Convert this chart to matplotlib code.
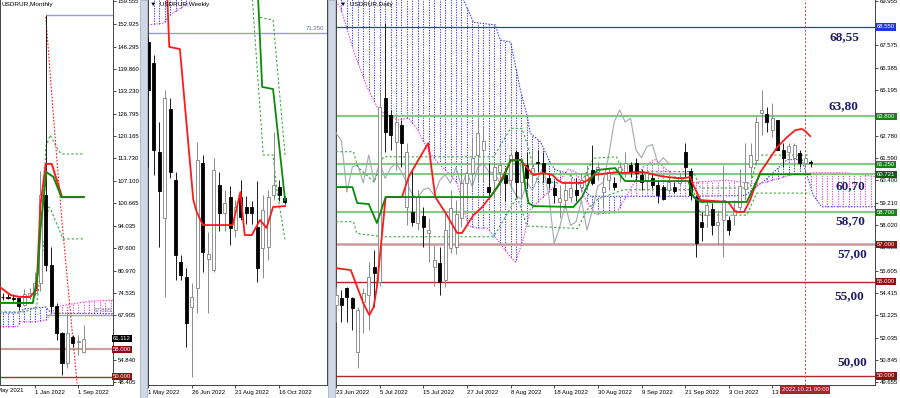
import numpy as np
import matplotlib.pyplot as plt
from matplotlib.patches import Rectangle

plt.rcParams['font.family'] = ['Liberation Sans', 'DejaVu Sans']

W, H = 900, 398
BLUE = '#3b3bf5'
MAG = '#f03cf0'
RED = '#ff1a1a'
GREEN = '#0b8a0b'
GREEN_DASH = '#3aa83a'
LEVEL_GREEN = '#86c886'
NAVY = '#1d1d6b'
TXT = 4.3

# ---------------- monthly (month index, Jan 2022 = 0) ----------------
m_idx = list(range(-6, 10))
m_open = [73.2, 73.1, 72.9, 72.8, 70.9, 73.6, 74.4, 77.3, 103.0, 82.5, 70.6, 62.6, 54.0, 61.6, 60.0, 57.3]
m_high = [74.3, 74.0, 73.8, 73.3, 75.5, 75.8, 80.4, 110.0, 155.5, 87.8, 71.6, 63.0, 68.6, 62.2, 62.1, 65.1]
m_low = [72.3, 72.6, 72.2, 69.3, 70.6, 72.6, 73.5, 74.9, 80.8, 68.9, 60.7, 50.5, 52.5, 58.5, 56.3, 56.8]
m_close = [73.1, 72.9, 72.6, 70.6, 74.2, 74.3, 77.3, 103.0, 82.5, 70.6, 62.6, 54.0, 62.8, 59.7, 60.4, 61.1]

m_tenkan_x = [-6.5, -4.5, -3, -1, 0.3, 1, 2, 3.1, 5, 9]
m_tenkan_v = [76.1, 73.8, 73.3, 73.2, 75.3, 100.0, 112.1, 112.1, 102.4, 102.4]
m_kijun_x = [-6.5, -0.4, 0.5, 1, 2.1, 3.4, 4.9, 9]
m_kijun_v = [71.5, 71.5, 80.0, 93.0, 109.7, 108.3, 102.4, 102.4]
m_upper_x = [1.6, 2.0, 2.8, 4.3, 4.9, 9]
m_upper_v = [101.5, 117.0, 120.5, 116.1, 115.0, 115.0]
m_lower_x = [-6.5, -1.9, 0.3, 1.3, 2.5, 2.8, 5.2, 9]
m_lower_v = [68.9, 68.9, 70.4, 85.0, 99.5, 99.2, 90.2, 90.2]
m_rdot_x = [2.0, 3.0, 4.0, 5.0, 6.0, 7.0, 7.8]
m_rdot_v = [155.0, 134.5, 114.4, 95.2, 78.2, 61.3, 48.0]
m_spana_x = [-6.5, -3, -2, 0, 2, 3, 14.4]
m_spana_v = [68.6, 68.6, 69.8, 70.0, 70.3, 68.5, 68.4]
m_spanb_x = [-6.5, -3.2, -2.8, 0, 2, 4, 6, 10, 14.4]
m_spanb_v = [64.6, 64.6, 66.0, 66.0, 66.5, 70.3, 71.0, 72.0, 72.3]
m_yticks = [159.555, 152.925, 146.295, 139.860, 133.230, 126.795, 120.165, 113.730,
            107.100, 100.665, 94.035, 87.600, 80.970, 74.535, 67.905, 54.840, 48.405]
m_xticks = [-8, 0, 8]
m_xlabels = ['1 May 2021', '1 Jan 2022', '1 Sep 2022']

# ---------------- weekly (week index, 1 May 2022 = 0) ----------------
w_idx = list(range(26))
w_open = [70.7, 69.4, 64.0, 60.0, 66.6, 62.3, 57.3, 56.4, 54.54, 55.7, 63.3, 57.5, 56.8,
          62.0, 60.3, 61.25, 59.24, 61.25, 60.64, 60.64, 59.42, 58.14, 58.2, 61.37, 61.86, 61.19]
w_close = [67.8, 64.1, 61.6, 67.3, 62.8, 57.7, 56.5, 53.6, 55.15, 63.5, 57.9, 57.8, 62.9,
           60.3, 60.9, 59.36, 60.64, 60.03, 60.27, 60.27, 56.92, 60.46, 61.25, 61.98, 61.37, 60.94]
w_high = [71.0, 69.9, 65.8, 67.8, 67.3, 62.8, 57.7, 56.9, 56.0, 64.6, 63.8, 59.1, 63.6,
          62.8, 61.7, 61.9, 61.06, 62.3, 61.3, 61.0, 62.2, 61.37, 61.7, 65.2, 62.3, 61.3]
w_low = [63.1, 62.6, 58.2, 55.15, 62.4, 56.2, 56.2, 52.1, 50.3, 54.2, 56.7, 54.2, 56.7,
         59.2, 59.2, 58.3, 58.8, 59.85, 59.6, 59.6, 56.07, 56.3, 57.4, 61.06, 61.0, 60.8]
w_tenkan_x = [3.5, 3.85, 5.8, 8.26, 8.9, 10.0, 15.5, 16.9, 17.7, 19.0, 20.5, 21.7, 22.9, 25.1]
w_tenkan_v = [73.3, 70.4, 70.27, 61.07, 60.33, 59.54, 59.54, 61.55, 58.93, 58.93, 59.85, 59.36, 60.64, 60.7]
w_kijun_x = [20.0, 20.9, 22.9, 25.1]
w_kijun_v = [74.5, 67.96, 67.83, 61.07]
w_band1_x = [19.1, 21.1, 22.9, 23.6, 23.9, 25.1]
w_band1_v = [73.3, 63.81, 63.81, 61.7, 61.07, 58.63]
w_band2_x = [20.5, 22.9, 25.1]
w_band2_v = [72.2, 72.04, 63.81]
w_spana_x = [-0.1, 8.2]
w_spana_v = [75.0, 75.0]
w_spanb_x = [-0.1, 2.8, 4.0, 7.5, 8.2]
w_spanb_v = [71.74, 71.85, 72.35, 73.1, 73.4]
w_xticks = [0, 8, 16, 24]
w_xlabels = ['1 May 2022', '26 Jun 2022', '21 Aug 2022', '16 Oct 2022']

# ---------------- daily (bar index, 23 Jun 2022 = 0) ----------------
d_idx = list(range(88))
d_open = [53.77, 54.14, 54.67, 54.14, 51.27, 53.93, 54.30, 55.79, 54.99, 64.78,
          63.87, 62.44, 63.34, 58.98, 58.72, 58.13, 58.50, 57.60, 55.79, 56.00,
          55.10, 56.80, 56.85, 58.40, 60.26, 60.79, 61.75, 62.00, 60.04, 60.42,
          60.84, 60.68, 60.42, 61.91, 60.31, 61.20, 60.80, 61.40, 61.30, 60.50,
          60.00, 59.25, 59.35, 59.50, 59.90, 60.05, 60.15, 60.95, 60.85, 59.80,
          60.40, 60.25, 60.85, 60.85, 61.20, 61.30, 60.70, 60.40, 60.50, 60.15,
          60.05, 59.90, 60.05, 60.25, 61.90, 60.90, 59.50, 58.20, 58.55, 58.90,
          58.00, 58.30, 58.30, 58.55, 59.00, 59.95, 61.10, 61.50, 64.00, 63.90,
          63.10, 63.60, 62.00, 61.90, 61.60, 61.85, 61.30, 61.40]
d_close = [54.30, 53.77, 54.20, 53.61, 53.50, 54.41, 55.26, 55.47, 64.30, 62.97,
           62.81, 63.50, 62.38, 61.91, 58.18, 59.51, 57.92, 57.76, 56.16, 54.99,
           57.76, 58.93, 58.60, 60.26, 60.79, 61.59, 62.92, 62.50, 59.78, 61.11,
           61.21, 60.26, 61.75, 60.31, 61.40, 60.50, 61.05, 61.32, 60.85, 60.26,
           59.62, 59.46, 59.90, 60.00, 59.60, 60.40, 60.70, 60.25, 61.10, 60.05,
           60.85, 60.05, 61.10, 61.30, 60.85, 60.80, 60.30, 60.80, 60.15, 59.60,
           59.40, 60.30, 59.85, 60.55, 61.10, 59.60, 57.05, 57.90, 59.10, 58.00,
           58.20, 59.35, 57.75, 58.80, 60.10, 60.30, 61.75, 63.50, 64.14, 63.50,
           63.70, 62.00, 61.60, 62.20, 62.30, 61.30, 61.60, 61.30]
d_high = [54.73, 54.57, 54.73, 54.20, 53.66, 54.67, 56.06, 56.69, 65.20, 68.76,
          64.14, 63.87, 63.61, 62.38, 60.95, 59.90, 59.00, 58.40, 56.96, 56.85,
          58.66, 59.88, 59.35, 61.00, 61.40, 62.65, 63.71, 63.30, 61.32, 61.40,
          61.40, 61.05, 61.85, 62.01, 61.50, 61.90, 62.00, 62.00, 61.90, 60.80,
          60.40, 60.15, 60.31, 60.50, 60.50, 60.80, 61.20, 62.30, 61.40, 60.60,
          61.10, 60.60, 61.40, 61.90, 61.40, 61.60, 61.00, 61.00, 60.80, 60.40,
          60.15, 60.60, 60.30, 60.80, 62.40, 61.05, 59.60, 58.70, 59.35, 59.20,
          58.80, 61.20, 58.50, 59.35, 61.00, 62.40, 62.40, 63.80, 65.20, 64.30,
          64.50, 63.60, 62.40, 62.40, 62.40, 62.00, 61.75, 61.50]
d_low = [52.87, 52.87, 52.87, 52.44, 50.42, 52.28, 52.44, 53.66, 54.78, 61.91,
         62.00, 60.95, 61.11, 58.02, 57.97, 57.76, 56.85, 56.06, 54.78, 54.30,
         54.73, 56.53, 56.50, 57.90, 59.30, 59.90, 60.31, 60.30, 59.51, 59.51,
         59.60, 59.30, 60.00, 59.51, 59.35, 60.00, 60.26, 60.84, 60.30, 60.00,
         59.20, 58.40, 58.93, 59.25, 59.30, 59.80, 59.90, 60.15, 60.40, 59.00,
         59.90, 59.90, 60.30, 60.60, 60.60, 60.40, 59.90, 59.90, 60.00, 59.20,
         59.35, 59.80, 59.70, 60.10, 60.55, 59.35, 56.30, 57.20, 57.90, 57.50,
         56.96, 56.30, 57.50, 58.00, 58.80, 59.35, 60.50, 61.20, 62.80, 62.97,
         62.70, 62.00, 61.10, 61.50, 61.10, 61.10, 61.10, 61.11]
chikou_shift = 26

d_tenkan_x = [0, 2.7, 3.2, 5.0, 6.1, 6.9, 7.5, 9.1, 12.1, 13.3, 15.1, 16.9, 18.2, 20.1, 22.2,
              23.1, 25.2, 26.8, 29.2, 30.1, 32.0, 33.8, 35.1, 36.2, 38.0, 39.7, 40.6, 41.5,
              45.1, 46.2, 47.2, 51.6, 52.6, 56.3, 59.4, 60.7, 62.5, 64.0, 64.9, 65.5, 66.8,
              71.9, 73.2, 74.8, 75.9, 77.7, 80.9, 82.7, 84.2, 85.4, 86.0, 86.9]
d_tenkan_v = [55.73, 55.63, 55.26, 53.87, 53.24, 53.66, 54.73, 59.51, 59.51, 60.57, 61.48,
              62.38, 59.51, 58.66, 57.60, 57.60, 58.55, 58.98, 59.88, 60.31, 61.43, 61.48,
              61.05, 60.68, 60.79, 60.68, 60.42, 60.26, 60.26, 60.42, 60.68, 60.84, 60.79,
              60.84, 60.63, 60.58, 60.52, 60.52, 60.58, 60.15, 59.35, 59.25, 58.72, 58.72,
              59.35, 60.79, 62.17, 62.70, 63.07, 63.13, 63.02, 62.75]
d_kijun_x = [0, 3.0, 3.9, 6.0, 7.5, 9.1, 28.3, 30.7, 32.0, 34.1, 34.7, 35.3, 36.2, 43.5, 45.1,
             46.6, 47.9, 51.2, 52.5, 53.0, 64.6, 65.5, 66.8, 75.3, 77.7, 86.9]
d_kijun_v = [60.04, 60.04, 59.19, 59.14, 58.13, 59.51, 59.51, 60.52, 61.48, 61.48, 60.04,
             59.19, 59.03, 58.98, 59.51, 60.42, 60.95, 61.05, 60.52, 60.36, 60.36, 59.51,
             59.25, 59.25, 60.72, 60.72]
d_upper_x = [0, 3.2, 4, 7, 8.7, 28.9, 32.0, 34.1, 35.0, 37, 45, 47.2, 51.4, 52.7, 65.5, 66.8,
             75.9, 77.3, 86.9]
d_upper_v = [61.92, 61.92, 61.1, 60.3, 61.65, 61.65, 63.16, 63.16, 62.37, 60.3, 60.3, 61.57,
             61.65, 60.86, 60.86, 59.99, 59.99, 61.74, 61.74]
d_lower_x = [0, 3.2, 3.8, 8.7, 28.9, 33.2, 35.0, 44.3, 46.0, 48, 52.7, 65.5, 66.8, 75.3, 77.1, 86.9]
d_lower_v = [58.2, 58.2, 57.58, 57.4, 57.4, 59.53, 57.97, 57.84, 58.82, 59.4, 59.9, 59.9,
             58.55, 58.55, 59.72, 59.72]
d_spana_x = [0, 21, 23.4, 25.2, 29.2, 30.1, 32.0, 33.8, 35.1, 35.6, 37.5, 39.3, 40.2, 42.4,
             44.5, 46.6, 65, 75, 79, 82.7, 85.4, 87.5, 89, 98.8]
d_spana_v = [73.5, 71.5, 69.99, 68.8, 68.66, 67.86, 67.75, 65.2, 63.76, 62.9, 62.44, 61.32,
             60.95, 60.79, 60.2, 59.55, 59.55, 59.6, 60.5, 61.5, 61.5, 59.6, 59.0, 59.0]
d_spanb_x = [0, 0.8, 3.6, 5.7, 7.8, 11.3, 13.3, 15.0, 16.8, 18.8, 20.6, 22.2, 24.2, 25.9, 27.7,
             29.6, 32.0, 32.9, 34.3, 35.6, 37.5, 40.5, 42.6, 44.2, 45.5, 47.5, 51.5, 54.5,
             56.5, 58.5, 60.5, 62.5, 65.5, 71.5, 77.5, 83.5, 87.5, 93.5, 98.8]
d_spanb_v = [69.9, 69.6, 66.95, 65.36, 64.14, 63.6, 63.71, 63.07, 62.0, 61.3, 60.8, 60.26,
             58.0, 57.86, 57.86, 57.23, 56.32, 56.06, 57.23, 58.82, 59.4, 60.2, 61.0, 60.8,
             59.5, 58.6, 58.7, 60.2, 61.2, 61.5, 61.0, 60.5, 60.3, 60.4, 60.2, 60.7, 60.8,
             60.8, 60.6]
d_yticks = [69.955, 67.575, 66.385, 65.195, 62.780, 61.590, 60.400, 59.210, 58.020,
            56.830, 55.605, 54.415, 53.225, 52.035, 50.845, 49.655]
d_xticks = [0, 8, 16, 24, 32, 40, 48, 56, 64, 72, 80]
d_xlabels = ['23 Jun 2022', '5 Jul 2022', '15 Jul 2022', '27 Jul 2022', '8 Aug 2022',
             '18 Aug 2022', '30 Aug 2022', '9 Sep 2022', '21 Sep 2022', '3 Oct 2022',
             '13 Oct 2022']
green_levels = [63.800, 61.250, 60.721, 58.700]
blue_level = 68.550
red_levels = [57.000, 55.000, 50.000]
level_texts = ['68,55', '63,80', '60,70', '58,70', '57,00', '55,00', '50,00']
level_refs = [68.550, 63.800, 60.721, 58.700, 57.000, 55.000, 50.000]


def candles(ax, x, o, h, l, c, width, min_h):
    x, o, h, l, c = [np.asarray(a, float) for a in (x, o, h, l, c)]
    up = c >= o
    ax.vlines(x[up], l[up], h[up], color='#8a8a8a', lw=0.7, zorder=5)
    ax.vlines(x[~up], l[~up], h[~up], color='#1a1a1a', lw=0.7, zorder=5)
    lo = np.minimum(o, c)
    hh = np.maximum(np.abs(c - o), min_h)
    ax.bar(x[up], hh[up], width, bottom=lo[up], facecolor='white', edgecolor='#808080',
           lw=0.6, zorder=6)
    ax.bar(x[~up], hh[~up], width, bottom=lo[~up], facecolor='black', edgecolor='black',
           lw=0.6, zorder=6)


def cloud(ax, xa, ya, xb, yb):
    dots = (0, (1.3, 1.3))
    ax.plot(xa, ya, color=BLUE, lw=0.8, ls=dots, zorder=1)
    ax.plot(xb, yb, color=MAG, lw=0.8, ls=dots, zorder=1)
    grid = np.arange(np.ceil(max(xa[0], xb[0])), np.floor(min(xa[-1], xb[-1])) + 1)
    a = np.interp(grid, xa, ya)
    b = np.interp(grid, xb, yb)
    top = a >= b
    ax.vlines(grid[top], b[top], a[top], color=BLUE, lw=0.7, linestyles=[dots], zorder=1)
    ax.vlines(grid[~top], a[~top], b[~top], color=MAG, lw=0.7, linestyles=[dots], zorder=1)


def box(ax, val, text, fc, tc='white'):
    ax.text(1.004, val, text, transform=ax.get_yaxis_transform(), fontsize=TXT, color=tc,
            va='center', ha='left', zorder=20, clip_on=False,
            bbox=dict(boxstyle='square,pad=0.18', fc=fc, ec='none'))


def style(ax, xlim, ylim, xticks, xlabels, yticks=None):
    ax.set_xlim(*xlim)
    ax.set_ylim(*ylim)
    ax.set_facecolor('white')
    for s in ax.spines.values():
        s.set_color('#444444')
        s.set_linewidth(0.7)
    ax.spines['top'].set_visible(False)
    ax.set_xticks(xticks)
    ax.set_xticklabels(xlabels)
    for t in ax.get_xticklabels():
        t.set_ha('left')
    ax.tick_params(axis='x', length=2.5, width=0.5, pad=1.2, labelsize=TXT)
    ax.yaxis.tick_right()
    if yticks is None:
        ax.set_yticks([])
    else:
        ax.set_yticks(yticks)
        ax.set_yticklabels(['%.3f' % v for v in yticks])
        ax.tick_params(axis='y', length=2.5, width=0.5, pad=1.2, labelsize=TXT)


fig = plt.figure(figsize=(9, 3.98), dpi=100)
fig.patch.set_facecolor('white')


def px_axes(x0, x1, y0=0, y1=385):
    return fig.add_axes([x0 / W, 1 - y1 / H, (x1 - x0) / W, (y1 - y0) / H])


for sx in (140, 328):
    fig.add_artist(Rectangle((sx / W, 0), 7 / W, 1, transform=fig.transFigure,
                             fc='#cfd8e4', ec='#9aa8ba', lw=0.5, zorder=0))

# ======================= monthly panel =======================
axm = px_axes(0, 112.5)
style(axm, (-6.48, 14.35), (47.55, 159.93), m_xticks[1:], m_xlabels[1:], m_yticks)
axm.text(m_xticks[0], -0.008, m_xlabels[0], transform=axm.get_xaxis_transform(),
         fontsize=TXT, va='top', ha='left', clip_on=False)
cloud(axm, m_spana_x, m_spana_v, m_spanb_x, m_spanb_v)
axm.hlines([155.5, 67.865], 1.95, 14.35, color='#9c9cd0', lw=1.0, zorder=2)
axm.text(10.8, 67.865 + 0.6, '67.865', fontsize=TXT, color='#6a6aa8', va='bottom')
axm.axhline(58.0, color='#c8a0a0', lw=1.6, zorder=2)
axm.axhline(50.0, color='#a83030', lw=1.0, zorder=2)
axm.plot(m_lower_x, m_lower_v, color=GREEN_DASH, lw=0.8, ls=(0, (2, 2)), zorder=3)
axm.plot(m_upper_x, m_upper_v, color=GREEN_DASH, lw=0.8, ls=(0, (2, 2)), zorder=3)
axm.plot(m_rdot_x, m_rdot_v, color=RED, lw=0.8, ls=(0, (1.5, 1.5)), zorder=3)
axm.plot(m_tenkan_x, m_tenkan_v, color=RED, lw=1.4, zorder=7)
axm.plot(m_kijun_x, m_kijun_v, color=GREEN, lw=1.4, zorder=8)
candles(axm, m_idx, m_open, m_high, m_low, m_close, 0.6, 0.25)
axm.text(0.01, 0.995, 'USDRUR,Monthly', transform=axm.transAxes, fontsize=TXT + 0.3,
         va='top', ha='left', zorder=20)
box(axm, 61.112, '61.112', '#000000')
box(axm, 58.0, '58.000', '#8b1010')
box(axm, 50.0, '50.000', '#8b1010')

# ======================= weekly panel =======================
axw = px_axes(148, 327)
style(axw, (-0.055, 32.8), (49.79, 73.26), w_xticks, w_xlabels)
cloud(axw, w_spana_x, w_spana_v, w_spanb_x, w_spanb_v)
axw.axhline(71.25, color='#9c9cd0', lw=1.0, zorder=2)
axw.text(0.985, 71.25 + 0.12, '71.250', transform=axw.get_yaxis_transform(),
         fontsize=TXT, color='#6a6aa8', ha='right', va='bottom')
axw.plot(w_band1_x, w_band1_v, color=GREEN_DASH, lw=0.8, ls=(0, (2, 2)), zorder=3)
axw.plot(w_band2_x, w_band2_v, color=GREEN_DASH, lw=0.8, ls=(0, (2, 2)), zorder=3)
axw.plot(w_tenkan_x, w_tenkan_v, color=RED, lw=1.3, zorder=7)
axw.plot(w_kijun_x, w_kijun_v, color=GREEN, lw=1.3, zorder=8)
candles(axw, w_idx, w_open, w_high, w_low, w_close, 0.55, 0.06)
axw.text(0.012, 0.995, '\u25bc  USDRUR,Weekly', transform=axw.transAxes, fontsize=TXT + 0.3,
         va='top', ha='left', zorder=20)

# ======================= daily panel =======================
axd = px_axes(336, 875)
style(axd, (0.09, 98.8), (49.52, 69.985), d_xticks, d_xlabels, d_yticks)
cloud(axd, d_spana_x, d_spana_v, d_spanb_x, d_spanb_v)
axd.axhline(blue_level, color='#2a3ad0', lw=0.9, zorder=2)
for v in green_levels:
    axd.axhline(v, color=LEVEL_GREEN, lw=1.5, zorder=2)
axd.axhline(red_levels[0], color='#c99a9a', lw=1.8, zorder=2)
for v in red_levels[1:]:
    axd.axhline(v, color='#b02828', lw=1.0, zorder=2)
axd.axvline(86, color='#d03a3a', lw=0.7, ls=(0, (2, 2)), zorder=2)
axd.plot(np.asarray(d_idx[chikou_shift:]) - chikou_shift, d_close[chikou_shift:],
         color='#a3a8b4', lw=0.8, zorder=3)
axd.plot(d_upper_x, d_upper_v, color=GREEN_DASH, lw=0.8, ls=(0, (2, 2)), zorder=3)
axd.plot(d_lower_x, d_lower_v, color=GREEN_DASH, lw=0.8, ls=(0, (2, 2)), zorder=3)
axd.plot(d_tenkan_x, d_tenkan_v, color=RED, lw=1.3, zorder=7)
axd.plot(d_kijun_x, d_kijun_v, color=GREEN, lw=1.3, zorder=8)
candles(axd, d_idx, d_open, d_high, d_low, d_close, 0.55, 0.03)
axd.text(0.008, 0.995, '\u25bc  USDRUR,Daily', transform=axd.transAxes, fontsize=TXT + 0.3,
         va='top', ha='left', zorder=20)

box(axd, blue_level, '68.550', '#2038d8')
for v in green_levels:
    box(axd, v, '%.3f' % v, '#1d7d1d' if v != 60.721 else '#0e5e0e')
for v in red_levels:
    box(axd, v, '%.3f' % v, '#8b1010')
axd.text(86, -0.006, '2022.10.21 00:00', transform=axd.get_xaxis_transform(), fontsize=TXT,
         color='white', ha='center', va='top', zorder=30, clip_on=False,
         bbox=dict(boxstyle='square,pad=0.2', fc='#a02828', ec='none'))

text_pos = [(0.944, -7.2), (0.942, 7.2), (0.954, -8.6), (0.955, -6.5), (0.957, -7.2),
            (0.952, -10.0), (0.957, 9.6)]
for t, ref, (fx, dy) in zip(level_texts, level_refs, text_pos):
    axd.annotate(t, xy=(fx, ref), xycoords=('axes fraction', 'data'), xytext=(0, dy),
                 textcoords='offset points', ha='center', va='center', fontsize=9.5,
                 fontweight='bold', family='Liberation Serif', color=NAVY, zorder=25)

fig.savefig('out.png', dpi=100)
